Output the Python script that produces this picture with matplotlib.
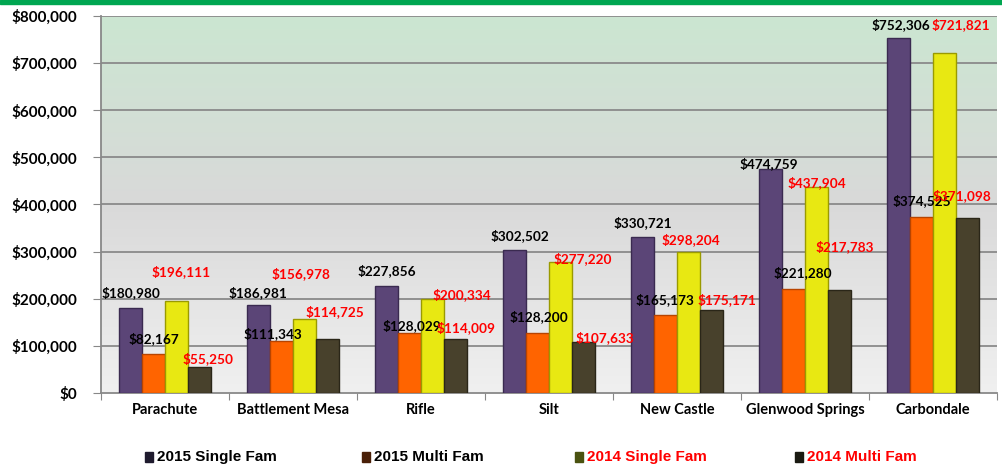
import numpy as np
import matplotlib
matplotlib.use('Agg')
import matplotlib.pyplot as plt
from matplotlib.colors import LinearSegmentedColormap
from matplotlib.patches import Rectangle
from matplotlib.ticker import FuncFormatter

cities = ['Parachute', 'Battlement Mesa', 'Rifle', 'Silt', 'New Castle',
          'Glenwood Springs', 'Carbondale']
single_2015 = [180980, 186981, 227856, 302502, 330721, 474759, 752306]
multi_2015 = [82167, 111343, 128029, 128200, 165173, 221280, 374525]
single_2014 = [196111, 156978, 200334, 277220, 298204, 437904, 721821]
multi_2014 = [55250, 114725, 114009, 107633, 175171, 217783, 371098]
series_names = ['2015 Single Fam', '2015 Multi Fam', '2014 Single Fam', '2014 Multi Fam']

# label offsets in pixels (dx, up) from each bar top
label_offsets = [
    [(1, 15), (0, 12), (0, 15), (5, 15), (0, 15), (-2, 6), (2, 14)],
    [(0, 16), (-9, 7), (2, 7), (1, 16), (-1, 16), (9, 16), (0, 16)],
    [(5, 29), (-4, 45), (29, 4), (22, 4), (2, 13), (0, 4), (16, 28)],
    [(8, 8), (7, 27), (10, 12), (21, 5), (15, 11), (5, 44), (-6, 23)],
]
bar_colors = ['#5b4577', '#ff6400', '#e8e812', '#48412c']
edge_colors = ['#3a2a50', '#b84400', '#9a9a00', '#2a2618']
label_colors = ['black', 'black', 'red', 'red']
legend_sq = ['#1f1b2e', '#4a2008', '#4a5210', '#1a1a12']
legend_txt = ['black', 'black', 'red', 'red']

font = 'Lato'
fig = plt.figure(figsize=(10.03, 4.65), dpi=100)
fig.patch.set_facecolor('white')
ax = fig.add_axes([101 / 1003, 1 - 393 / 465, 896 / 1003, 377 / 465])

# background gradient
cmap = LinearSegmentedColormap.from_list(
    'bg', [(0, '#f0f0f0'), (0.5, '#d9d9d9'), (1, '#cbe6d1')])
grad = np.linspace(0, 1, 256).reshape(-1, 1)
ax.imshow(grad, extent=(-0.5, 6.5, 0, 800000), aspect='auto', origin='lower',
          cmap=cmap, zorder=0)

x = np.arange(len(cities))
w = 0.18
all_series = [single_2015, multi_2015, single_2014, multi_2014]
for i, vals in enumerate(all_series):
    xs = x + (i - 1.5) * w
    ax.bar(xs, vals, width=w, color=bar_colors[i], edgecolor=edge_colors[i],
           linewidth=1.0, zorder=3)
    for j, v in enumerate(vals):
        dx, up = label_offsets[i][j]
        ax.annotate('${:,}'.format(v), (xs[j], v), xytext=(dx * 0.72, up * 0.72),
                    textcoords='offset points', ha='center', va='center',
                    fontsize=9.8, fontweight='bold', color=label_colors[i],
                    family=font, zorder=5)

ax.set_xlim(-0.5, 6.5)
ax.set_ylim(0, 800000)
ax.set_yticks(np.arange(0, 800001, 100000))
ax.yaxis.set_major_formatter(FuncFormatter(lambda v, p: '${:,.0f}'.format(v)))
for y in np.arange(100000, 800001, 100000):
    ax.axhline(y, color='#8a8a8a', linewidth=1.3, zorder=1)

ax.set_xticks(np.arange(-0.5, 7, 1))
ax.set_xticklabels([])
ax.set_xticks(x, minor=True)
ax.set_xticklabels(cities, minor=True, fontsize=10.5, fontweight='bold', family=font)
ax.tick_params(axis='x', which='minor', length=0, pad=7)
ax.tick_params(axis='x', which='major', length=5, color='#888888')
ax.tick_params(axis='y', length=6, color='#888888', pad=11)
for lab in ax.get_yticklabels():
    lab.set_fontweight('bold')
    lab.set_fontsize(11)
    lab.set_family(font)
for s in ['top', 'right']:
    ax.spines[s].set_visible(False)
ax.spines['left'].set_color('#888888')
ax.spines['bottom'].set_color('#888888')
ax.spines['left'].set_linewidth(1.3)
ax.spines['bottom'].set_linewidth(1.3)

# top green strip
fig.add_artist(Rectangle((0, 1 - 4 / 465), 1, 4 / 465, transform=fig.transFigure,
                         color='#00a651', zorder=10))

# legend
leg_x = [145, 362, 575, 795]
for k, name in enumerate(series_names):
    fig.add_artist(Rectangle((leg_x[k] / 1003, 1 - 462 / 465), 8 / 1003, 10 / 465,
                             transform=fig.transFigure, color=legend_sq[k]))
    fig.text((leg_x[k] + 12) / 1003, 1 - 457 / 465, name, fontsize=11,
             fontweight='bold', color=legend_txt[k], va='center',
             family='Liberation Sans')

fig.savefig('out.png', dpi=100)
